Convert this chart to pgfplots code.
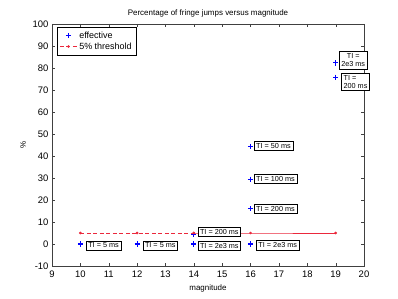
\documentclass[border=0pt]{standalone}
\usepackage{pgfplots}
\pgfplotsset{compat=1.18}
\usepackage{fontspec}
\setmainfont{Liberation Sans}
\definecolor{thr}{RGB}{235,40,60}
\tikzset{lbl/.style={draw=black, fill=white, text=black, font=\fontsize{7.3}{8.5}\selectfont, inner sep=2bp, line width=0.5pt}}
\begin{document}
\begin{tikzpicture}[x=1bp,y=1bp]
\fill[white] (0,0) rectangle (398,299);
\path[use as bounding box] (0,0) rectangle (398,299);
\begin{axis}[
  at={(52bp,33bp)}, anchor=south west,
  scale only axis, width=312bp, height=242bp,
  xmin=9, xmax=20, ymin=-10, ymax=100,
  xtick={9,...,20}, ytick={-10,0,...,100},
  tick align=inside, major tick length=3bp,
  axis line style={black!75}, tick style={black!75},
  tick label style={font=\fontsize{9.5}{10}\selectfont},
  xticklabel style={yshift=-1.5bp},
  /pgf/number format/assume math mode=true,
  title={Percentage of fringe jumps versus magnitude},
  title style={font=\fontsize{8}{9}\selectfont, yshift=-3bp},
  xlabel={magnitude}, ylabel={\%},
  xlabel style={font=\fontsize{8}{9}\selectfont, yshift=0bp},
  ylabel style={font=\fontsize{8}{9}\selectfont},
  legend style={at={(0.016,0.988)}, anchor=north west, font=\fontsize{9}{10}\selectfont,
    draw=black, inner sep=2.5bp, row sep=-1bp, cells={anchor=west}},
  legend cell align=left,
  clip=false,
]
\addplot[only marks, draw=blue, fill=blue, mark=+, mark size=2.6pt, mark options={draw=blue, line width=1.1pt}]
  coordinates {(10,0) (12,0) (14,4.4) (14,0) (16,44.5) (16,29.5) (16,16) (16,0) (19,82.3) (19,75.8)};
\addlegendentry{effective}
\addplot[draw=thr, line width=0.6pt, dash pattern=on 4bp off 2.5bp, mark=*, mark size=1pt, mark options={solid, draw=thr, fill=thr}]
  coordinates {(10,5) (12,5) (14,5)};
\addlegendentry{5\% threshold}
\addplot[draw=thr, line width=0.6pt, mark=*, mark size=1pt, mark options={draw=thr, fill=thr}, forget plot]
  coordinates {(14,5) (16,5) (19,5)};
\node[lbl, anchor=west] at (axis cs:10.2,-0.6) {TI = 5 ms};
\node[lbl, anchor=west] at (axis cs:12.2,-0.6) {TI = 5 ms};
\node[lbl, anchor=west] at (axis cs:14.14,5.6) {TI = 200 ms};
\node[lbl, anchor=west] at (axis cs:14.14,-0.8) {TI = 2e3 ms};
\node[lbl, anchor=west] at (axis cs:16.2,-0.6) {TI = 2e3 ms};
\node[lbl, anchor=west] at (axis cs:16.12,44.5) {TI = 50 ms};
\node[lbl, anchor=west] at (axis cs:16.12,29.5) {TI = 100 ms};
\node[lbl, anchor=west] at (axis cs:16.12,16) {TI = 200 ms};
\node[lbl, anchor=south west, align=center] at (axis cs:19.12,79.5) {TI =\\2e3 ms};
\node[lbl, anchor=north west, align=left] at (axis cs:19.2,77.8) {TI =\\200 ms};
\end{axis}
\end{tikzpicture}
\end{document}
